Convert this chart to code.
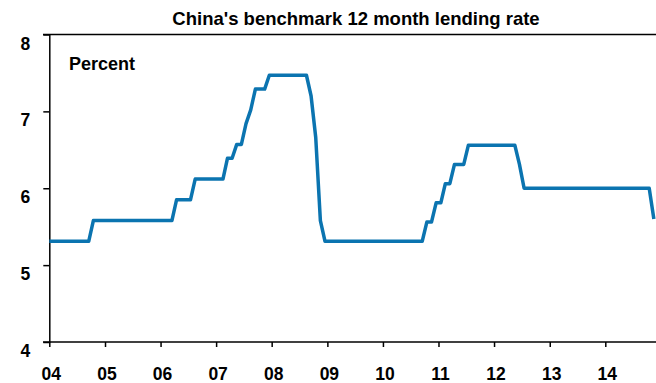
<!DOCTYPE html>
<html lang="en">
    <head>
        <meta charset="UTF-8" />
        <title>China's benchmark 12 month lending rate</title>
        <style>
            body { margin: 0; background: #fff; }
        </style>
    </head>
    <body>
        <div id="main"></div>
        <script src="https://cdn.jsdelivr.net/npm/d3@7"></script>
        <script>
            // month-end rate, plotted mid-month; only months where the line bends
            const months = [
                "2003-12", "2004-09", "2004-10", "2006-03", "2006-04", "2006-07",
                "2006-08", "2007-02", "2007-03", "2007-04", "2007-05", "2007-06",
                "2007-07", "2007-08", "2007-09", "2007-11", "2007-12", "2008-08",
                "2008-09", "2008-10", "2008-11", "2008-12", "2010-09", "2010-10",
                "2010-11", "2010-12", "2011-01", "2011-02", "2011-03", "2011-04",
                "2011-06", "2011-07", "2012-05", "2012-06", "2012-07", "2014-10",
                "2014-11"
            ]
            const rates = [
                5.31, 5.31, 5.58, 5.58, 5.85, 5.85,
                6.12, 6.12, 6.39, 6.39, 6.57, 6.57,
                6.84, 7.02, 7.29, 7.29, 7.47, 7.47,
                7.20, 6.66, 5.58, 5.31, 5.31, 5.56,
                5.56, 5.81, 5.81, 6.06, 6.06, 6.31,
                6.31, 6.56, 6.56, 6.31, 6.00, 6.00,
                5.60
            ]
            const yearTicks = d3.range(2004, 2015)
            const rateTicks = [4, 5, 6, 7, 8]

            const svgWidth = 656
            const svgHeight = 383
            const plotLeft = 49.3
            const plotRight = 656
            const plotTop = 34.5
            const plotBottom = 342
            const fontFamily = "'Liberation Sans', Arial, sans-serif"
            const lineColor = "#0b74b0"

            const parseMonth = d3.timeParse("%Y-%m")
            const midMonth = (d) =>
                new Date((+d + +d3.timeMonth.offset(d, 1)) / 2)

            const data = months.map((m, i) => ({
                date: midMonth(parseMonth(m)),
                rate: rates[i]
            }))

            const x = d3
                .scaleTime()
                .domain([new Date(2004, 0, 1), new Date(2014, 0, 1)])
                .range([plotLeft, 605.3])
            const y = d3
                .scaleLinear()
                .domain([4, 8])
                .range([plotBottom, plotTop])

            const svg = d3
                .select("#main")
                .append("svg")
                .attr("width", svgWidth)
                .attr("height", svgHeight)
                .style("font-family", fontFamily)

            svg.append("defs")
                .append("clipPath")
                .attr("id", "plot")
                .append("rect")
                .attr("x", plotLeft)
                .attr("y", 0)
                .attr("width", plotRight - plotLeft)
                .attr("height", svgHeight)

            // title
            svg.append("text")
                .attr("x", 356)
                .attr("y", 25)
                .attr("text-anchor", "middle")
                .attr("font-size", 18.5)
                .attr("font-weight", 700)
                .text("China's benchmark 12 month lending rate")

            // top frame line
            svg.append("line")
                .attr("x1", 43)
                .attr("x2", plotRight)
                .attr("y1", plotTop)
                .attr("y2", plotTop)
                .attr("stroke", "#000")
                .attr("stroke-width", 1.5)

            // y axis
            const yAxis = svg
                .append("g")
                .attr("transform", `translate(${plotLeft},0)`)
                .call(
                    d3
                        .axisLeft(y)
                        .tickValues(rateTicks)
                        .tickSize(6)
                        .tickSizeOuter(0)
                        .tickFormat(d3.format("d"))
                )
            yAxis.select(".domain").attr("stroke-width", 1.5)
            yAxis.selectAll(".tick line").attr("stroke-width", 1.5)
            yAxis
                .selectAll(".tick text")
                .attr("x", -19)
                .attr("dy", "0.32em")
                .attr("transform", "translate(0,9)")
                .attr("font-size", 17.5)
                .attr("font-weight", 700)
                .attr("font-family", fontFamily)
                .attr("fill", "#000")

            // x axis
            const xAxis = svg
                .append("g")
                .attr("transform", `translate(0,${plotBottom})`)
                .call(
                    d3
                        .axisBottom(x)
                        .tickValues(yearTicks.map((yr) => new Date(yr, 0, 1)))
                        .tickSize(5)
                        .tickSizeOuter(0)
                        .tickFormat(d3.timeFormat("%y"))
                )
            xAxis.select(".domain").remove()
            xAxis
                .append("line")
                .attr("x1", 43)
                .attr("x2", plotRight)
                .attr("stroke", "#000")
                .attr("stroke-width", 1.5)
            xAxis.selectAll(".tick line").attr("stroke-width", 1.5)
            xAxis
                .selectAll(".tick text")
                .attr("y", 38)
                .attr("dy", 0)
                .attr("dx", 1.5)
                .attr("font-size", 17.5)
                .attr("font-weight", 700)
                .attr("font-family", fontFamily)
                .attr("fill", "#000")

            svg.append("text")
                .attr("x", 69)
                .attr("y", 70)
                .attr("font-size", 18)
                .attr("font-weight", 700)
                .text("Percent")

            const line = d3
                .line()
                .x((d) => x(d.date))
                .y((d) => y(d.rate))

            svg.append("path")
                .datum(data)
                .attr("clip-path", "url(#plot)")
                .attr("d", line)
                .attr("fill", "none")
                .attr("stroke", lineColor)
                .attr("stroke-width", 3.5)
                .attr("stroke-linejoin", "round")
        </script>
    </body>
</html>
